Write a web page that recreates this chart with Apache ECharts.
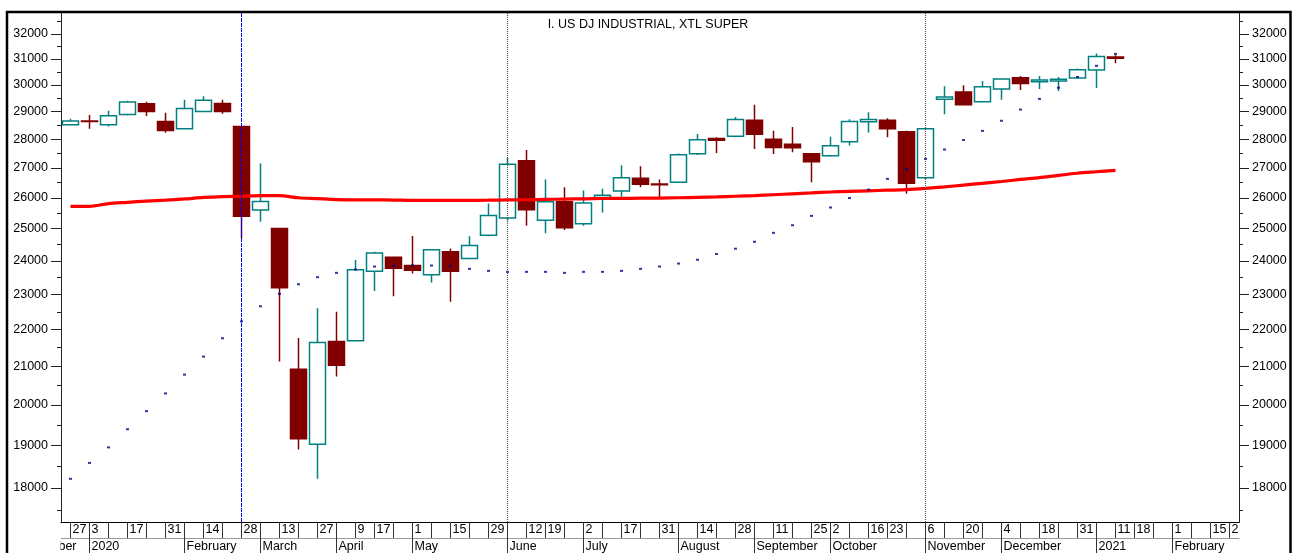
<!DOCTYPE html>
<html><head><meta charset="utf-8">
<script src="https://cdn.jsdelivr.net/npm/echarts@6/dist/echarts.min.js"></script>
<style>html,body{margin:0;padding:0;background:#fff}#c{width:1296px;height:553px}</style>
</head><body><div id="c"></div>
<script>
const FONT = "'Liberation Sans', Arial, sans-serif";
const titleText = 'I. US DJ INDUSTRIAL, XTL SUPER';

const weeks = ['2019-12-27','2020-01-03','2020-01-10','2020-01-17','2020-01-24','2020-01-31','2020-02-07','2020-02-14','2020-02-21','2020-02-28',
 '2020-03-06','2020-03-13','2020-03-20','2020-03-27','2020-04-03','2020-04-09','2020-04-17','2020-04-24','2020-05-01','2020-05-08',
 '2020-05-15','2020-05-22','2020-05-29','2020-06-05','2020-06-12','2020-06-19','2020-06-26','2020-07-02','2020-07-10','2020-07-17',
 '2020-07-24','2020-07-31','2020-08-07','2020-08-14','2020-08-21','2020-08-28','2020-09-04','2020-09-11','2020-09-18','2020-09-25',
 '2020-10-02','2020-10-09','2020-10-16','2020-10-23','2020-10-30','2020-11-06','2020-11-13','2020-11-20','2020-11-27','2020-12-04',
 '2020-12-11','2020-12-18','2020-12-24','2020-12-31','2021-01-08','2021-01-11','2021-01-18','2021-01-25','2021-02-01','2021-02-08',
 '2021-02-15','2021-02-22'];

const dayLabels = ['27','3','','17','','31','','14','','28',
 '','13','','27','','9','17','','1','',
 '15','','29','','12','19','','2','','17',
 '','31','','14','','28','','11','','25',
 '2','','16','23','','6','','20','','4',
 '','18','','31','','11','18','','1','',
 '15','2'];

const monthLabels = ['December','2020','','','','','February','','','',
 'March','','','','April','','','','May','',
 '','','','June','','','','July','','',
 '','','August','','','','September','','','',
 'October','','','','','November','','','','December',
 '','','','','2021','','','','February','',
 '',''];

// [open, close, low, high]
const ohlc = [
 [28520,28660,28495,28740],[28654,28634,28376,28872],[28520,28850,28460,29030],[28890,29350,28860,29400],[29290,29000,28840,29360],
 [28640,28310,28230,28960],[28380,29110,28350,29440],[29000,29420,28990,29570],[29300,29000,28920,29440],[28460,25400,24700,28470],
 [25600,25880,25220,27150],[25010,23200,21130,25030],[20920,19160,18900,21770],[19025,21640,18210,22600],[21670,21030,20730,22500],
 [21690,23730,21680,24030],[23690,24240,23100,24280],[24110,23780,22950,24130],[23860,23720,23620,24770],[23580,24340,23350,24360],
 [24280,23690,22790,24380],[24070,24470,24050,24760],[24790,25420,24760,25810],[25340,27130,25265,27350],[27250,25610,25090,27620],
 [25270,25870,24860,26610],[25870,25030,24960,26350],[25160,25830,25090,26240],[26010,26080,25520,26300],[26220,26670,26030,27090],
 [26650,26450,26350,27060],[26460,26430,26020,26610],[26520,27460,26500,27500],[27490,27980,27450,28190],[28030,27965,27520,28070],
 [28110,28710,28070,28800],[28680,28180,27660,29250],[28000,27710,27480,28300],[27820,27700,27540,28440],[27490,27210,26520,27500],
 [27420,27770,27390,28090],[27910,28640,27780,28720],[28630,28710,28240,28975],[28680,28380,28070,28760],[28270,26480,26130,28300],
 [26670,28380,26620,28400],[29460,29540,28900,29950],[29730,29250,29220,29980],[29360,29930,29340,30150],[29840,30220,29440,30230],
 [30270,30050,29800,30340],[30120,30180,29840,30340],[30150,30210,29770,30300],[30260,30580,30240,30630],[30570,31100,29880,31210],
 [31080,31030,30830,31150]
];

const movingAvg = [25720,25720,25810,25850,25890,25920,25960,26010,26040,26050,
 26070,26070,26000,25970,25940,25930,25930,25925,25915,25915,
 25915,25915,25920,25930,25935,25945,25955,25965,25975,25980,
 25985,25990,26000,26015,26030,26050,26070,26100,26130,26160,
 26190,26210,26230,26250,26270,26310,26360,26420,26480,26540,
 26610,26670,26750,26820,26870,26920];

const sar = [18210,18580,18950,19390,19840,20290,20780,21260,21760,22230,
 22660,23020,23300,23510,23640,23740,23830,23850,23860,23860,
 23840,23760,23700,23670,23670,23670,23640,23670,23670,23700,
 23760,23830,23920,24035,24210,24375,24590,24870,25110,25410,
 25680,25990,26270,26630,26960,27310,27640,27975,28300,28665,
 29075,29470,29890,30300,30730,31200];

const yMajorTicks = [18000,19000,20000,21000,22000,23000,24000,25000,26000,27000,28000,29000,30000,31000,32000];
const yMinorTicks = [17500,18500,19500,20500,21500,22500,23500,24500,25500,26500,27500,28500,29500,30500,31500,32500];
const yMin = 17240, yMax = 32900;

const markerBlue = ['2020-02-28'];
const markerGrey = ['2020-06-05','2020-11-06'];

const monthAxisData = weeks.map((w, i) => i === 0
  ? { value: w, textStyle: { align: 'right', padding: [0, -6, 0, 0] } }
  : w);

function yAxisCfg(pos, ticks, len, withLabels) {
  return {
    type: 'log', logBase: 10, position: pos, min: yMin, max: yMax, gridIndex: 0,
    axisLine: { show: true, lineStyle: { color: '#222', width: 1 } },
    axisTick: { show: true, inside: false, length: len, customValues: ticks, lineStyle: { color: '#222', width: 1 } },
    axisLabel: withLabels ? {
      show: true, customValues: ticks, margin: 13, color: '#000', fontSize: 12.5, fontFamily: FONT,
      formatter: v => String(Math.round(v))
    } : { show: false },
    splitLine: { show: false }, minorTick: { show: false }, minorSplitLine: { show: false }
  };
}

function markerSeries(date, color, width, dash) {
  return { type: 'line', xAxisIndex: 0, yAxisIndex: 0, data: [[date, yMin], [date, yMax]],
    symbol: 'none', showSymbol: false, silent: true, z: 5, color: color,
    itemStyle: { color: color },
    lineStyle: { color: color, width: width, type: dash, opacity: 1 } };
}

const chart = echarts.init(document.getElementById('c'), null, { renderer: 'canvas' });
chart.setOption({
  animation: false,
  backgroundColor: '#fff',
  title: { text: titleText, left: 'center', top: 18, padding: 0,
    textStyle: { fontSize: 12.5, fontWeight: 'normal', color: '#000', fontFamily: FONT } },
  grid: { left: 61, right: 57, top: 12, bottom: 31, containLabel: false, outerBoundsMode: 'none' },
  xAxis: [
    { type: 'category', data: weeks, position: 'bottom', boundaryGap: true,
      axisLine: { onZero: false, lineStyle: { color: '#000', width: 1 } },
      axisTick: { show: true, alignWithLabel: true, interval: 0, length: 16, lineStyle: { color: '#333', width: 1 } },
      axisLabel: { interval: 0, formatter: (v, i) => dayLabels[i], align: 'left', padding: [0, 0, 0, 2], margin: 1,
        color: '#000', fontSize: 12.5, fontFamily: FONT },
      splitLine: { show: false } },
    { type: 'category', data: monthAxisData, position: 'bottom', offset: 16, boundaryGap: true,
      axisLine: { onZero: false, lineStyle: { color: '#999', width: 1 } },
      axisTick: { show: true, alignWithLabel: true, interval: (i) => i > 0 && monthLabels[i] !== '', length: 15, lineStyle: { color: '#333', width: 1 } },
      axisLabel: { interval: 0, formatter: (v, i) => monthLabels[i], align: 'left', padding: [0, 0, 0, 2], margin: 2,
        color: '#000', fontSize: 12.5, fontFamily: FONT },
      splitLine: { show: false } }
  ],
  yAxis: [
    yAxisCfg('left', yMajorTicks, 10, true),
    yAxisCfg('left', yMinorTicks, 4, false),
    yAxisCfg('right', yMajorTicks, 10, true),
    yAxisCfg('right', yMinorTicks, 4, false)
  ],
  series: [
    { type: 'candlestick', name: 'DJI', xAxisIndex: 0, yAxisIndex: 0, barWidth: 16,
      data: ohlc,
      itemStyle: { color: '#ffffff', color0: '#800000', borderColor: '#008080', borderColor0: '#800000', borderWidth: 1.5 }
    },
    { type: 'line', name: 'MA', xAxisIndex: 0, yAxisIndex: 0, data: movingAvg, smooth: 0.3,
      showSymbol: false, symbol: 'none', color: '#ff0000', lineStyle: { color: '#ff0000', width: 3.2 }, z: 3 },
    { type: 'scatter', name: 'SAR', xAxisIndex: 0, yAxisIndex: 0, data: sar,
      symbol: 'rect', symbolSize: [3, 2], itemStyle: { color: '#000090' }, z: 4 }
  ].concat(markerBlue.map(d => markerSeries(d, '#0000ff', 1, [4, 1])))
   .concat(markerGrey.map(d => markerSeries(d, '#555555', 1.2, [1, 1]))),
  graphic: [
    { type: 'rect', silent: true, z: 99, shape: { x: 9, y: 523, width: 51.5, height: 35 }, style: { fill: '#fff' } },
    { type: 'rect', silent: true, z: 100, shape: { x: 7, y: 12, width: 1283.5, height: 600 }, style: { fill: 'none', stroke: '#000', lineWidth: 2.5 } }
  ]
});
</script></body></html>
